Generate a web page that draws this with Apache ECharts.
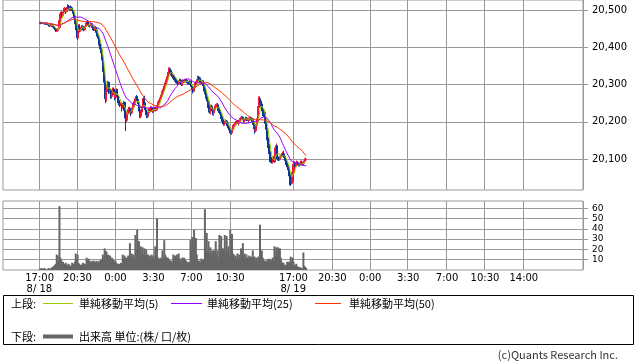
<!DOCTYPE html>
<html><head><meta charset="utf-8">
<script src="https://cdn.jsdelivr.net/npm/echarts@6.0.0/dist/echarts.min.js"></script>
<style>html,body{margin:0;padding:0;background:#fff}#c{width:638px;height:362px}</style>
</head><body><div id="c"></div>
<script>
// 5-minute bars, slot index on a category axis
const SLOTS = 642;
const FIRST = 40;
// [open, close, low, high]
const candles = [
[20466,20467,20463,20468],[20467,20465,20462,20468],[20465,20464,20463,20466],[20464,20466,20463,20468],
[20466,20465,20463,20467],[20465,20464,20462,20466],[20464,20462,20461,20465],[20462,20465,20461,20467],
[20465,20463,20460,20466],[20463,20462,20459,20464],[20462,20459,20456,20463],[20459,20458,20455,20461],
[20458,20460,20456,20462],[20460,20461,20457,20463],[20461,20458,20455,20462],[20458,20456,20453,20460],
[20456,20452,20450,20458],[20452,20449,20446,20454],[20449,20443,20441,20452],[20443,20445,20441,20448],
[20445,20449,20443,20451],[20449,20453,20446,20456],[20453,20472,20450,20476],[20472,20490,20468,20495],
[20490,20494,20486,20497],[20494,20484,20478,20496],[20484,20492,20482,20495],[20492,20500,20489,20506],
[20500,20504,20496,20508],[20504,20496,20490,20506],[20496,20505,20494,20508],[20505,20510,20502,20516],
[20510,20506,20503,20514],[20506,20501,20497,20509],[20501,20508,20498,20512],[20508,20506,20502,20511],
[20506,20500,20497,20509],[20500,20494,20490,20503],[20494,20482,20478,20497],[20482,20468,20462,20485],
[20468,20450,20446,20474],[20450,20438,20428,20454],[20438,20426,20420,20442],[20426,20458,20424,20462],
[20458,20450,20446,20462],[20450,20446,20440,20454],[20446,20452,20442,20455],[20452,20456,20448,20460],
[20456,20450,20446,20459],[20450,20447,20443,20453],[20447,20455,20445,20458],[20455,20462,20452,20466],
[20462,20468,20460,20470],[20468,20466,20458,20470],[20466,20460,20456,20468],[20460,20457,20453,20463],
[20457,20461,20455,20464],[20461,20463,20458,20466],[20463,20456,20452,20465],[20456,20450,20446,20459],
[20450,20446,20444,20452],[20446,20453,20445,20457],[20453,20446,20442,20456],[20446,20440,20436,20449],
[20440,20430,20426,20443],[20430,20424,20418,20433],[20424,20410,20405,20428],[20410,20400,20395,20414],
[20400,20388,20384,20404],[20388,20372,20365,20392],[20372,20340,20334,20375],[20340,20312,20305,20344],
[20312,20292,20286,20318],[20292,20262,20250,20296],[20262,20284,20255,20288],[20284,20300,20280,20305],
[20300,20306,20296,20310],[20306,20280,20275,20308],[20280,20286,20276,20290],[20286,20268,20262,20288],
[20268,20276,20262,20280],[20276,20288,20272,20292],[20288,20276,20272,20292],[20276,20265,20258,20280],
[20265,20278,20260,20282],[20278,20285,20274,20290],[20285,20270,20266,20288],[20270,20258,20250,20274],
[20258,20250,20244,20262],[20250,20246,20240,20254],[20246,20250,20242,20252],[20250,20238,20228,20252],
[20238,20246,20235,20249],[20246,20252,20242,20256],[20252,20230,20226,20254],[20230,20210,20175,20234],
[20210,20204,20200,20214],[20204,20222,20202,20228],[20222,20230,20218,20234],[20230,20236,20226,20240],
[20236,20228,20222,20240],[20228,20224,20215,20232],[20224,20234,20220,20238],[20234,20242,20230,20246],
[20242,20248,20238,20252],[20248,20254,20244,20258],[20254,20262,20250,20265],[20262,20268,20258,20272],
[20268,20260,20256,20272],[20260,20252,20248,20264],[20252,20232,20228,20255],[20232,20215,20210,20236],
[20215,20226,20210,20230],[20226,20238,20222,20242],[20238,20250,20232,20254],[20250,20262,20246,20266],
[20262,20248,20244,20270],[20248,20232,20222,20252],[20232,20222,20218,20240],[20222,20214,20210,20226],
[20214,20224,20210,20228],[20224,20232,20220,20236],[20232,20228,20226,20236],[20228,20238,20226,20242],
[20238,20234,20230,20241],[20234,20228,20224,20237],[20228,20232,20225,20235],[20232,20236,20228,20240],
[20236,20238,20232,20240],[20238,20232,20228,20240],[20232,20242,20230,20245],[20242,20250,20238,20254],
[20250,20256,20246,20259],[20256,20262,20252,20266],[20262,20270,20258,20273],[20270,20276,20266,20280],
[20276,20282,20270,20286],[20282,20288,20278,20292],[20288,20296,20284,20299],[20296,20300,20290,20306],
[20300,20310,20296,20314],[20310,20318,20306,20322],[20318,20330,20312,20334],[20330,20342,20326,20346],
[20342,20338,20332,20346],[20338,20332,20325,20342],[20332,20326,20320,20336],[20326,20322,20316,20330],
[20322,20324,20316,20326],[20324,20318,20312,20326],[20318,20314,20308,20322],[20314,20310,20304,20318],
[20310,20306,20302,20314],[20306,20304,20300,20310],[20304,20308,20300,20311],[20308,20312,20304,20316],
[20312,20306,20302,20315],[20306,20300,20296,20309],[20300,20306,20297,20309],[20306,20310,20302,20314],
[20310,20308,20304,20313],[20308,20312,20305,20316],[20312,20310,20306,20314],
[20310,20309,20304,20316],[20309,20305,20300,20312],[20305,20304,20300,20309],[20304,20308,20301,20312],
[20308,20300,20296,20310],[20300,20295,20290,20303],[20295,20286,20280,20298],[20286,20282,20276,20290],
[20282,20292,20280,20295],[20292,20300,20288,20304],[20300,20306,20296,20309],[20306,20310,20302,20314],
[20310,20320,20306,20324],[20320,20318,20312,20323],[20318,20310,20306,20320],[20310,20304,20300,20313],
[20304,20306,20300,20309],[20306,20310,20302,20314],
[20310,20300,20296,20312],[20300,20290,20282,20303],[20290,20278,20274,20294],[20278,20268,20262,20281],
[20268,20260,20255,20272],[20260,20254,20248,20264],[20254,20238,20234,20258],[20238,20226,20222,20242],
[20226,20234,20220,20238],[20234,20242,20230,20246],[20242,20232,20228,20246],[20232,20224,20218,20236],
[20224,20232,20216,20236],[20232,20240,20228,20244],[20240,20244,20234,20248],[20244,20246,20240,20250],
[20246,20238,20234,20250],[20238,20230,20224,20242],[20230,20228,20220,20234],[20228,20224,20216,20232],
[20224,20214,20208,20228],[20214,20206,20200,20218],[20206,20200,20194,20210],[20200,20196,20190,20204],
[20196,20200,20190,20203],[20200,20202,20195,20206],[20202,20196,20190,20205],[20196,20190,20184,20199],
[20190,20184,20178,20194],[20184,20178,20174,20188],[20178,20174,20170,20182],[20174,20170,20166,20178],
[20170,20178,20165,20182],[20178,20188,20174,20192],[20188,20192,20180,20195],[20192,20195,20188,20198],
[20195,20198,20190,20202],[20198,20200,20194,20204],[20200,20202,20194,20205],[20202,20196,20190,20204],
[20196,20202,20192,20205],[20202,20206,20198,20210],[20206,20210,20200,20213],[20210,20212,20206,20216],
[20212,20208,20204,20215],[20208,20204,20198,20211],[20204,20206,20200,20210],[20206,20210,20203,20214],
[20210,20206,20202,20213],[20206,20208,20203,20211],[20208,20204,20198,20209],
[20204,20208,20200,20211],[20208,20211,20204,20215],[20211,20209,20204,20214],[20209,20206,20200,20212],
[20206,20196,20192,20210],[20196,20188,20180,20199],[20188,20176,20168,20192],[20176,20180,20172,20184],
[20180,20194,20176,20198],[20194,20208,20190,20212],
[20208,20238,20205,20242],[20238,20262,20234,20268],[20262,20256,20250,20268],[20256,20248,20240,20260],
[20248,20234,20228,20252],[20234,20222,20215,20238],[20222,20226,20216,20228],[20226,20214,20205,20228],
[20214,20196,20190,20216],[20196,20180,20150,20200],[20180,20158,20150,20184],[20158,20140,20130,20162],
[20140,20120,20114,20142],[20120,20105,20092,20124],[20105,20098,20090,20110],[20098,20092,20088,20102],
[20092,20098,20088,20102],[20098,20104,20094,20108],[20104,20094,20090,20108],[20094,20130,20092,20134],
[20130,20136,20124,20142],[20136,20106,20100,20138],[20106,20102,20096,20110],[20102,20100,20095,20106],
[20100,20104,20096,20107],[20104,20108,20100,20112],[20108,20112,20104,20116],[20112,20114,20108,20120],
[20114,20110,20104,20122],[20110,20104,20100,20114],[20104,20096,20090,20108],[20096,20090,20084,20100],
[20090,20084,20078,20094],[20084,20078,20070,20088],[20078,20060,20054,20080],[20060,20046,20030,20064],
[20046,20036,20028,20052],[20036,20040,20032,20046],[20040,20064,20034,20068],[20064,20086,20060,20092],
[20086,20088,20080,20094],[20088,20080,20076,20092],[20080,20086,20076,20089],[20086,20090,20082,20096],
[20090,20086,20082,20094],[20086,20084,20080,20090],[20084,20088,20080,20091],[20088,20092,20084,20096],
[20092,20088,20084,20096],[20088,20086,20082,20092],[20086,20092,20084,20096],[20092,20095,20088,20100],
[20095,20098,20092,20102],[20098,20100,20094,20104]
];
const volumes = [
1,1,2,1,1,2,1,1,1,0,2,1,1,2,3,2,4,5,6,15,
14,9,62,12,10,7,8,6,5,7,5,4,6,5,4,3,7,5,6,8,
16,10,15,7,6,5,5,4,7,6,6,5,12,9,11,8,9,8,8,9,
9,7,8,9,8,7,9,8,10,9,15,12,21,18,18,14,15,12,14,11,
12,10,10,8,9,7,6,5,6,5,7,6,15,11,14,12,12,10,14,11,
26,14,16,12,15,11,34,20,39,25,28,18,23,16,22,15,21,14,20,12,
15,11,14,10,15,12,14,10,23,14,50,12,11,9,12,10,19,12,29,15,
13,10,12,9,10,8,9,7,15,10,14,9,15,11,16,10,11,8,12,9,
12,10,9,8,6,8,7,29,18,32,20,39,22,31,15,10,8,9,7,11,8,
10,8,59,20,36,18,28,16,22,14,19,12,19,13,28,15,19,12,34,18,
33,17,21,14,34,16,33,18,23,14,39,20,35,16,15,10,14,10,16,11,
15,10,21,12,26,14,16,11,15,12,10,14,9,13,9,19,12,13,10,12,9,
13,10,44,16,19,12,10,8,9,8,10,8,11,9,10,8,12,9,23,14,
22,13,22,12,21,12,8,6,7,5,5,4,8,6,8,6,13,8,12,8,
5,4,6,4,3,2,3,2,2,1,17,4,3,2
];
const tickIdx = [40, 82, 124, 166, 208, 251, 321, 364, 406, 448, 491, 533, 576];
const tickLabels = ['17:00','20:30','0:00','3:30','7:00','10:30','17:00','20:30','0:00','3:30','7:00','10:30','14:00'];
const dateIdx = [40, 321];
const dateLabels = ['8/ 18', '8/ 19'];
const priceTicks = [20100, 20200, 20300, 20400, 20500];
const volumeTicks = [10, 20, 30, 40, 50, 60];
const maPeriods = [5, 25, 50];
const maNames = ['単純移動平均(5)', '単純移動平均(25)', '単純移動平均(50)'];
const maColors = ['#99cc00', '#9900ff', '#ff3300'];

const UP = '#f0143c', DOWN = '#0a3694';
const cats = Array.from({length: SLOTS}, (_, i) => String(i));
function pad(arr, empty) {
  const out = new Array(SLOTS).fill(empty);
  arr.forEach((v, i) => { out[FIRST + i] = v; });
  return out;
}
const closes = candles.map(c => c[1]);
function sma(vals, p) {
  return vals.map((_, i) => {
    const s = Math.max(0, i - p + 1);
    let sum = 0;
    for (let j = s; j <= i; j++) sum += vals[j];
    return +(sum / (i - s + 1)).toFixed(2);
  });
}
const tickSet = new Set(tickIdx);
const labelMap = {};
tickIdx.forEach((t, i) => { labelMap[t] = tickLabels[i]; });

const gridLine = {color: '#999', width: 1};
const font = 'DejaVu Sans';
const chart = echarts.init(document.getElementById('c'));

const maSeries = maPeriods.map((p, i) => ({
  name: maNames[i], type: 'line', xAxisIndex: 0, yAxisIndex: 0,
  data: pad(sma(closes, p), '-'), symbol: 'none', showSymbol: false,
  lineStyle: {width: 1, color: maColors[i]}, itemStyle: {color: maColors[i]},
  z: 3 + i, animation: false
}));

const cjk = '"Noto Sans CJK JP", sans-serif';
function txt(t, x, y, extra) {
  return {type: 'text', style: Object.assign({text: t, x: x, y: y, fill: '#000', font: '11px ' + cjk, verticalAlign: 'middle', align: 'left'}, extra || {})};
}
function ln(x1, x2, y, color, w) {
  return {type: 'line', shape: {x1: x1, y1: y, x2: x2, y2: y}, style: {stroke: color, lineWidth: w}};
}

const legendGraphics = [
  {type: 'rect', shape: {x: 3.5, y: 295.5, width: 630, height: 49}, style: {fill: 'none', stroke: '#000', lineWidth: 1}},
  txt('上段:', 11, 303.5),
  ln(43, 73, 303.5, maColors[0], 1), txt(maNames[0], 79, 303.5),
  ln(171, 202, 303.5, maColors[1], 1), txt(maNames[1], 207, 303.5),
  ln(315, 341, 303.5, maColors[2], 1), txt(maNames[2], 349, 303.5),
  txt('下段:', 11, 336.5),
  ln(43, 73, 336.5, '#666', 4), txt('出来高 単位:(株/ 口/枚)', 79, 336.5),
  txt('(c)Quants Research Inc.', 618, 355, {align: 'right', fill: '#333'})
];

chart.setOption({
  animation: false,
  backgroundColor: '#fff',
  grid: [
    {left: 3, top: 0, width: 580, height: 190, show: true, borderColor: '#999', borderWidth: 1},
    {left: 3, top: 201, width: 580, height: 69, show: true, borderColor: '#999', borderWidth: 1}
  ],
  xAxis: [
    {type: 'category', gridIndex: 0, data: cats, boundaryGap: true,
     axisLine: {show: false}, axisTick: {show: false}, axisLabel: {show: false},
     splitLine: {show: true, interval: (i) => tickSet.has(i), lineStyle: gridLine}},
    {type: 'category', gridIndex: 1, data: cats, boundaryGap: true,
     axisLine: {show: false}, axisTick: {show: false},
     axisLabel: {show: true, interval: (i) => tickSet.has(i), formatter: (v, i) => labelMap[i] || '',
       fontFamily: font, fontSize: 10, color: '#000', lineHeight: 12, margin: 2},
     splitLine: {show: true, interval: (i) => tickSet.has(i), lineStyle: gridLine}}
  ],
  yAxis: [
    {type: 'value', gridIndex: 0, position: 'right', min: 20017, max: 20527, scale: true,
     axisLine: {show: false},
     axisTick: {show: true, customValues: priceTicks, length: 5, lineStyle: {color: '#999'}},
     axisLabel: {customValues: priceTicks, formatter: (v) => v.toLocaleString('en-US'),
       fontFamily: font, fontSize: 10, color: '#000', margin: 9},
     splitLine: {show: true, lineStyle: gridLine}},
    {type: 'value', gridIndex: 1, position: 'right', min: 0, max: 67,
     axisLine: {show: false},
     axisTick: {show: true, customValues: volumeTicks, length: 5, lineStyle: {color: '#999'}},
     axisLabel: {customValues: volumeTicks, fontFamily: font, fontSize: 9, color: '#000', margin: 9},
     splitLine: {show: true, lineStyle: gridLine}}
  ],
  series: [
    {name: '株価', type: 'candlestick', xAxisIndex: 0, yAxisIndex: 0, large: false,
     data: pad(candles, ['-', '-', '-', '-']), barWidth: 1.6,
     itemStyle: {color: UP, color0: DOWN, borderColor: UP, borderColor0: DOWN, borderWidth: 1}, z: 2},
    ...maSeries,
    {name: '出来高', type: 'bar', xAxisIndex: 1, yAxisIndex: 1, large: false,
     data: pad(volumes, '-'), barWidth: 2, itemStyle: {color: '#666'}}
  ],
  graphic: legendGraphics
});

// date line under the time labels, placed through the category axis
const dateGraphics = dateIdx.map((idx, i) => {
  const px = chart.convertToPixel({xAxisIndex: 1}, idx);
  return {type: 'text', style: {text: dateLabels[i], x: px - 13, y: 289.5, fill: '#000',
    font: '10px "DejaVu Sans"', verticalAlign: 'middle', align: 'left'}};
});
chart.setOption({graphic: legendGraphics.concat(dateGraphics)});
</script>
</body></html>
